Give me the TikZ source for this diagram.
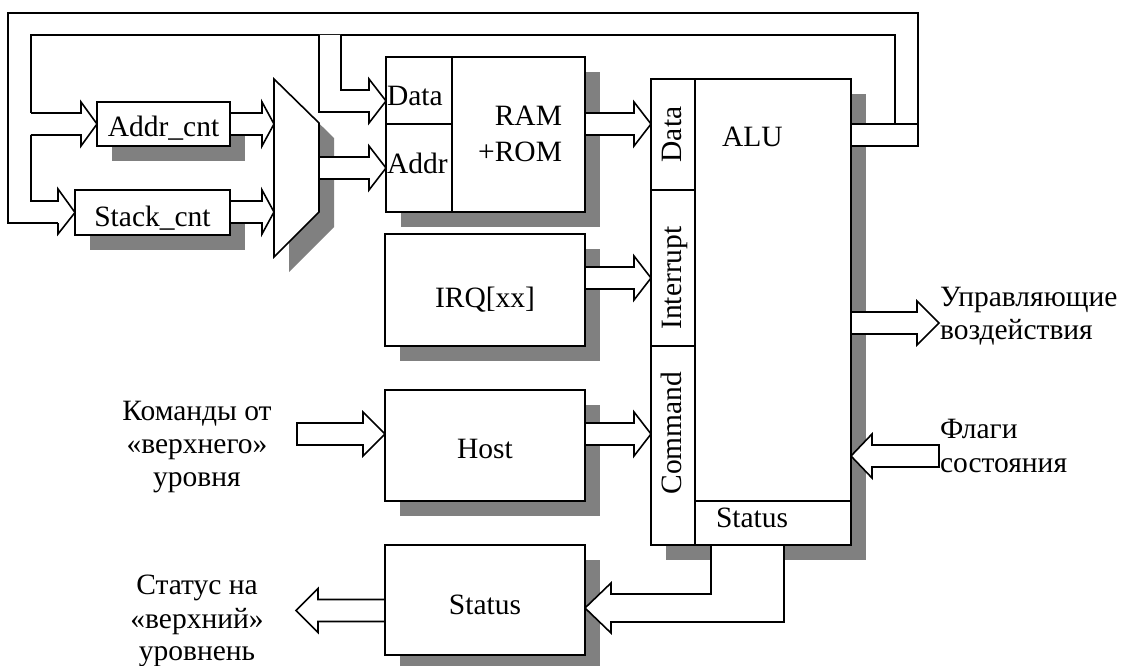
\documentclass[tikz,border=0pt]{standalone}
\usepackage{fontspec}
\setmainfont{Liberation Serif}
\usetikzlibrary{calc}
\definecolor{sgray}{HTML}{808080}
\pgfdeclarelayer{shadowlayer}
\pgfdeclarelayer{arrowlayer}
\pgfsetlayers{shadowlayer,arrowlayer,main}
\tikzset{
  ln/.style={line width=1.6pt, line join=miter},
  box/.style={ln, draw, fill=white, inner sep=0pt, outer sep=0pt},
  arr/.style={ln, draw, fill=white},
  lbl/.style={inner sep=0pt, outer sep=0pt, anchor=base},
  lblw/.style={lbl, anchor=base west},
  lble/.style={lbl, anchor=base east},
  vlbl/.style={lbl, rotate=90},
}
\newcommand\dshadow[1]{\begin{pgfonlayer}{shadowlayer}\fill[sgray] ($(#1.north west)+(15,15)$) rectangle ($(#1.south east)+(15,15)$);\end{pgfonlayer}}
% #1 path end (optional), #2 from, #3 to, #4 centre y, #5 head length, #6 half head height
\newcommand\blkarrow[6][]{%
 \begin{pgfonlayer}{arrowlayer}
 \draw[arr] ($(#2 |- 0,#4)+(0,-11)$) -- ($(#3 |- 0,#4)+({-(#5)},-11)$) -- ($(#3 |- 0,#4)+({-(#5)},{-(#6)})$) -- (#3 |- 0,#4) -- ($(#3 |- 0,#4)+({-(#5)},#6)$) -- ($(#3 |- 0,#4)+({-(#5)},11)$) -- ($(#2 |- 0,#4)+(0,11)$) #1;
 \end{pgfonlayer}}
\begin{document}
\begin{tikzpicture}[x=1pt,y=-1pt,font=\fontsize{29.5}{33}\selectfont]
\useasboundingbox (0,0) rectangle (1122,666);
% boxes
\node[box, minimum width=133pt, minimum height=44pt] (addr) at (163.5,124) {};
\node[box, minimum width=155pt, minimum height=45pt] (stack) at (152.5,212.5) {};
\node[box, minimum width=199pt, minimum height=155pt] (ram) at (485.5,134.5) {};
\node[box, minimum width=200pt, minimum height=112pt] (irq) at (485,290) {};
\node[box, minimum width=200pt, minimum height=111pt] (host) at (485,445.5) {};
\node[box, minimum width=200pt, minimum height=110pt] (stbox) at (485,600) {};
\node[box, minimum width=200pt, minimum height=466pt] (alu) at (751,312) {};
\foreach \b in {addr,stack,ram,irq,host,stbox,alu} {\dshadow{\b}}
% multiplexer
\coordinate (m1) at (274,79); \coordinate (m2) at (319,123);
\coordinate (m3) at (319,212); \coordinate (m4) at (274,257);
\draw[box] (m1) -- (m2) -- (m3) -- (m4) -- cycle;
\begin{pgfonlayer}{shadowlayer}
\fill[sgray] ([shift={(15,15)}]m1) -- ([shift={(15,15)}]m2) -- ([shift={(15,15)}]m3) -- ([shift={(15,15)}]m4) -- cycle;
\end{pgfonlayer}
% inner dividers
\draw[ln] (452,57) -- (452,212);
\draw[ln] (386,124) -- (452,124);
\draw[ln] (695,79) -- (695,545);
\draw[ln] (651,190) -- (695,190);
\draw[ln] (651,346) -- (695,346);
\draw[ln] (695,501) -- (851,501);
% bus
\coordinate (oTL) at (8,13); \coordinate (oTR) at (918,13);
\coordinate (iTL) at (31,35); \coordinate (iTR) at (895,35);
\coordinate (cmdin) at (297,434);
\coordinate (ctlout) at (939,323);
\coordinate (flagin) at (939,456);
\coordinate (stout) at (296,610);
\begin{pgfonlayer}{arrowlayer}
\fill[white] (alu.east |- 0,124) rectangle (oTR |- 0,146);
\draw[ln] (58,223) -- (oTL |- 0,223) -- (oTL) -- (oTR) -- (oTR |- 0,146) -- (alu.east |- 0,146);
\draw[ln] (alu.east |- 0,124) -- (oTR |- 0,124);
\draw[ln] (iTL |- 0,113) -- (iTL) -- (iTR) -- (iTR |- 0,124);
\draw[ln] (31,135) -- (31,201) -- (58,201) -- (58,189) -- (stack.west) -- (58,234) -- (58,223);
\draw[arr] (319,35) -- (319,112) -- (369,112) -- (369,123) -- (ram.west |- 0,101) -- (369,79) -- (369,90) -- (341,90) -- (341,35);
\draw[arr] (711,545) -- (711,594) -- (611,594) -- (611,583) -- (stbox.east |- 0,608) -- (611,633) -- (611,622) -- (784,622) -- (784,545);
\end{pgfonlayer}
\blkarrow{iTL}{addr.west}{124}{16}{22}
\blkarrow{addr.east}{m1}{124}{12}{22}
\blkarrow{stack.east}{m1}{212}{12}{22}
\blkarrow{m2}{ram.west}{168}{17}{22}
\blkarrow{ram.east}{alu.west}{124}{17}{22}
\blkarrow{irq.east}{alu.west}{278}{17}{22}
\blkarrow{host.east}{alu.west}{434}{17}{22}
\blkarrow[-- cycle]{cmdin}{host.west}{434}{22}{22}
\blkarrow{alu.east}{ctlout}{323}{22}{22}
\blkarrow[-- cycle]{flagin}{alu.east}{456}{-21}{22}
\blkarrow{stbox.west}{stout}{610.5}{-22}{22}
% labels
\node[lbl] (taddr) at (163.5,137) {Addr\_cnt};
\node[lbl] (tstack) at (152.5,226) {Stack\_cnt};
\node[lblw] (tdata) at (387,106) {Data};
\node[lblw] (taddr2) at (387,173) {Addr};
\node[lble] (tram) at (562,126) {RAM};
\node[lble] (trom) at (562,161) {+ROM};
\node[lblw] (talu) at (722,147) {ALU};
\node[vlbl] (tdata2) at (681,134.5) {Data};
\node[vlbl] (tint) at (681,278) {Interrupt};
\node[vlbl] (tcmd) at (681,433) {Command};
\node[lblw] (tst) at (716,527) {Status};
\node[lbl] (tirq) at (485,307) {IRQ[xx]};
\node[lbl] (thost) at (485,458) {Host};
\node[lbl] (tstb) at (485,614) {Status};
\node[lblw] (tc1) at (940,306) {Управляющие};
\node[lblw] (tc2) at (940,339) {воздействия};
\node[lblw] (tf1) at (940,438) {Флаги};
\node[lblw] (tf2) at (940,472) {состояния};
\node[lbl] (tk1) at (197,420) {Команды от};
\node[lbl] (tk2) at (197,453) {«верхнего»};
\node[lbl] (tk3) at (197,486) {уровня};
\node[lbl] (ts1) at (197,594) {Статус на};
\node[lbl] (ts2) at (197,628) {«верхний»};
\node[lbl] (ts3) at (197,660) {уровнень};
\end{tikzpicture}
\end{document}
